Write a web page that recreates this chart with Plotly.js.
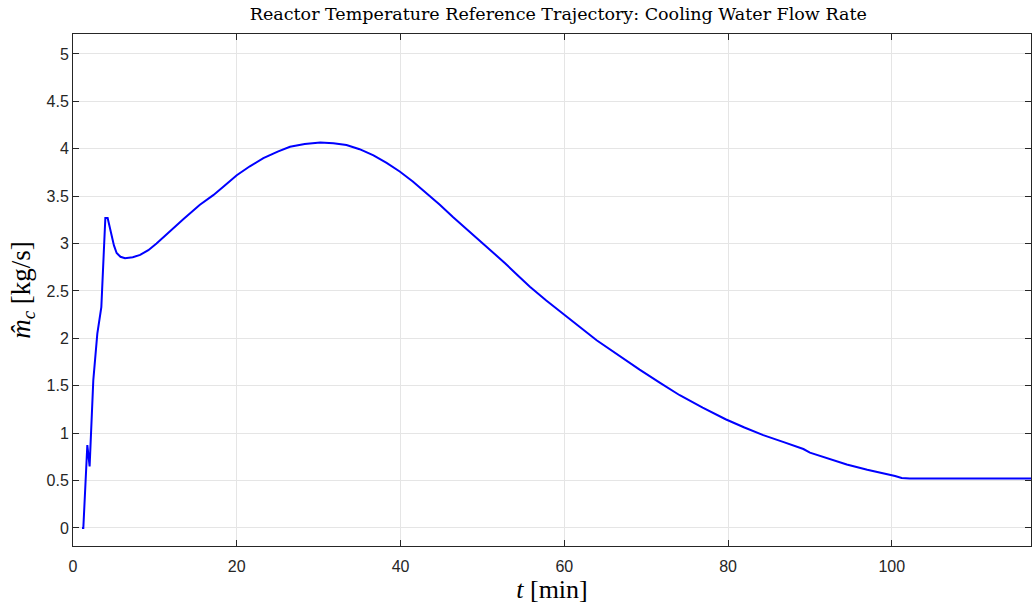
<!DOCTYPE html>
<html>
<head>
<meta charset="utf-8">
<script src="https://cdn.plot.ly/plotly-3.0.1.min.js"></script>
<style>
html,body{margin:0;padding:0;background:#fff;}
#chart{width:1032px;height:609px;}
</style>
</head>
<body>
<div id="chart"></div>
<script>
const chartTitle = "Reactor Temperature Reference Trajectory: Cooling Water Flow Rate";
const xLabel = "<i>t</i> [min]";
const yLabel = "<i>m\u0302</i><sub><i>c</i></sub> [kg/s]";

const timeMin = [1.1, 1.26, 1.75, 2.03, 2.48, 2.97, 3.46, 3.7, 3.95, 4.23, 4.5, 4.72, 5.0, 5.33, 5.8, 6.35, 7.3, 8.2, 9.2, 10.2, 11.2, 12.25, 13.5, 15.5, 17.13, 18.5, 20, 21.6, 23.25, 25, 26.5, 28.3, 30.2, 31.8, 33.4, 35, 36.7, 38.3, 39.9, 41.5, 43.2, 44.8, 46.4, 48, 49.7, 51.2, 52.8, 54.3, 55.8, 57.8, 59.8, 61.9, 63.95, 66.6, 69.2, 71.7, 74.1, 76.9, 79.7, 82, 84.3, 86.8, 89.2, 90, 92.2, 94.5, 97, 99.6, 100.4, 101.2, 102.2, 110, 117];
const flowRate = [0, 0, 0.875, 0.65, 1.56, 2.05, 2.33, 2.8, 3.27, 3.27, 3.16, 3.07, 2.98, 2.90, 2.86, 2.845, 2.855, 2.88, 2.93, 3.0, 3.08, 3.17, 3.26, 3.41, 3.51, 3.61, 3.72, 3.815, 3.90, 3.97, 4.02, 4.05, 4.065, 4.058, 4.04, 3.995, 3.93, 3.85, 3.76, 3.655, 3.53, 3.41, 3.28, 3.16, 3.03, 2.91, 2.79, 2.665, 2.545, 2.40, 2.26, 2.12, 1.98, 1.82, 1.67, 1.53, 1.40, 1.27, 1.147, 1.06, 0.98, 0.905, 0.833, 0.795, 0.73, 0.67, 0.615, 0.566, 0.548, 0.527, 0.522, 0.522, 0.522];

const xTicks = [0, 20, 40, 60, 80, 100];
const yTicks = [0, 0.5, 1, 1.5, 2, 2.5, 3, 3.5, 4, 4.5, 5];

const axisColor = '#262626';
const gridColor = '#e5e5e5';

Plotly.newPlot('chart', [{
  x: timeMin, y: flowRate, type: 'scatter', mode: 'lines',
  line: {color: '#0000ff', width: 2},
  hoverinfo: 'skip'
}], {
  width: 1032, height: 609,
  margin: {l: 73, r: 1, t: 34, b: 63},
  paper_bgcolor: '#fff', plot_bgcolor: '#fff',
  showlegend: false,
  title: {text: chartTitle, x: 0.541, xanchor: 'center', y: 0.977, yanchor: 'middle',
          font: {family: 'DejaVu Serif, Liberation Serif, serif', size: 17.5, color: '#000'}},
  xaxis: {
    range: [0, 117], tickvals: xTicks, ticktext: xTicks.map(String),
    ticks: 'inside', ticklen: 6, tickcolor: axisColor, tickwidth: 1,
    showline: true, linecolor: axisColor, linewidth: 1, mirror: 'ticks',
    showgrid: true, gridcolor: gridColor, gridwidth: 1, zeroline: false,
    ticklabelstandoff: 6,
    tickfont: {family: 'Liberation Sans, Arial, sans-serif', size: 16, color: '#262626'},
    title: {text: xLabel, standoff: 4, font: {family: 'Liberation Serif, DejaVu Serif, serif', size: 26, color: '#000'}}
  },
  yaxis: {
    range: [-0.19, 5.21], tickvals: yTicks, ticktext: yTicks.map(String),
    ticks: 'inside', ticklen: 6, tickcolor: axisColor, tickwidth: 1,
    showline: true, linecolor: axisColor, linewidth: 1, mirror: 'ticks',
    showgrid: true, gridcolor: gridColor, gridwidth: 1, zeroline: false,
    tickfont: {family: 'Liberation Sans, Arial, sans-serif', size: 16, color: '#262626'},
    title: {text: yLabel, standoff: 8, font: {family: 'Liberation Serif, DejaVu Serif, serif', size: 27, color: '#000'}}
  }
}, {displayModeBar: false, staticPlot: true});
</script>
</body>
</html>
